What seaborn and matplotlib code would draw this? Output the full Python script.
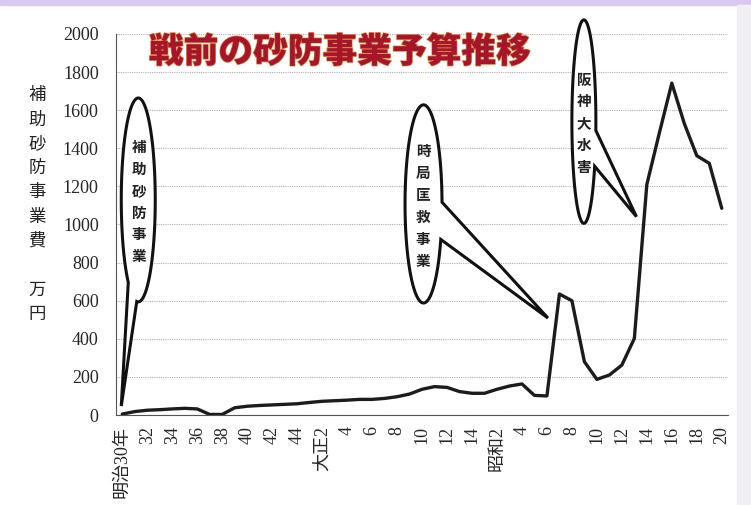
import numpy as np
import seaborn as sns
import matplotlib.pyplot as plt
from matplotlib.patches import Polygon, Rectangle
import matplotlib.patheffects as pe

# 補助砂防事業費 (万円), 明治30年(1897) - 昭和20年(1945), one value per year
budget = [5, 18, 25, 28, 32, 35, 32, 3, 3, 38,
          46, 50, 53, 56, 59, 66, 72, 75, 78, 82,
          82, 87, 96, 110, 135, 149, 145, 123, 114, 114,
          135, 152, 163, 103, 100, 635, 600, 280, 187, 210,
          262, 402, 1210, 1480, 1742, 1530, 1361, 1321, 1085]
year_idx = list(range(len(budget)))

tick_labels = ['明治30年', '32', '34', '36', '38', '40', '42', '44',
               '大正2', '4', '6', '8', '10', '12', '14',
               '昭和2', '4', '6', '8', '10', '12', '14', '16', '18', '20']
y_ticks = list(range(0, 2001, 200))

title = '戦前の砂防事業予算推移'
ylabel_main = '補助砂防事業費'
ylabel_unit = '万円'

# callout balloons: text, centre, semi-axes, gap angles, tail tip, text centre (data units)
notes = [
    ('補助砂防事業', (1.28, 1129), (1.36, 535), (265, 234), (-0.08, 47), (1.36, 1120)),
    ('時局匡救事業', (24.12, 1108), (1.48, 520), (1, -21), (34.08, 509), (24.08, 1097)),
    ('阪神大水害', (36.96, 1540), (0.96, 534), (-5, -26), (41.17, 1041), (36.96, 1531)),
]

sns.set_style('white')
plt.rcParams['font.family'] = ['Liberation Serif', 'Noto Sans CJK JP']
cjk = ['Noto Sans CJK JP', 'DejaVu Sans']

fig, ax = plt.subplots(figsize=(7.51, 5.05), dpi=100)
fig.subplots_adjust(left=0.1545, right=0.9694, bottom=0.1782, top=0.9327)

# page decoration: lavender strip on top, pale grey strip on the right
fig.patches.append(Rectangle((0, 0.99), 1, 0.01, transform=fig.transFigure,
                             color='#d9c9ee', zorder=0))
fig.patches.append(Rectangle((0.981, 0), 0.019, 0.99, transform=fig.transFigure,
                             color='#f0f0f4', zorder=0))

sns.lineplot(x=year_idx, y=budget, ax=ax, color='#1c1c1c', linewidth=2.4, zorder=3)

ax.set_xlim(-0.5, len(budget) - 0.5)
ax.set_ylim(0, 2000)
ax.set_xticks(range(0, len(budget), 2))
ax.set_xticklabels(tick_labels, rotation=90, fontsize=13)
ax.set_xticks(np.arange(-0.5, len(budget), 1), minor=True)
ax.tick_params(axis='x', which='major', length=0, pad=8)
ax.tick_params(axis='x', which='minor', length=4.5, width=0.8, color='#555', direction='out')
ax.set_yticks(y_ticks)
ax.tick_params(axis='y', length=4.5, width=0.8, color='#555', direction='out', pad=8, labelsize=13)
ax.set_xlabel('')
ax.set_ylabel('')

ax.yaxis.grid(True, color='#b0b0b0', lw=0.8, ls=(0, (1, 1)))
for s in ['top', 'right']:
    ax.spines[s].set_visible(False)
for s in ['left', 'bottom']:
    ax.spines[s].set_color('#555')
    ax.spines[s].set_linewidth(0.8)

for text, (cx, cy), (a, b), (s, e), tip, tpos in notes:
    ts = np.radians(np.linspace(s, e + 360, 240))
    pts = np.column_stack([cx + a * np.cos(ts), cy + b * np.sin(ts)])
    pts = np.vstack([pts, tip])
    ax.add_patch(Polygon(pts, closed=True, fc='white', ec='#111', lw=2.2,
                         zorder=5, clip_on=False))
    ax.text(tpos[0], tpos[1], '\n'.join(text), ha='center', va='center',
            fontsize=10.5, linespacing=1.45, fontweight='bold', family=cjk,
            color='#222', zorder=6)

fig.text(37 / 751, 1 - 204.5 / 505,
         '\n'.join(ylabel_main) + '\n\n' + '\n'.join(ylabel_unit),
         ha='center', va='center', fontsize=12.5, linespacing=1.45, family=cjk, color='#222')

fig.text(340 / 751, 1 - 52 / 505, title, ha='center', va='center', fontsize=25,
         fontweight='heavy', family=cjk, color='#a5162b',
         path_effects=[pe.withStroke(linewidth=1.0, foreground='#e8924a')])

fig.savefig('out.png', dpi=100)
